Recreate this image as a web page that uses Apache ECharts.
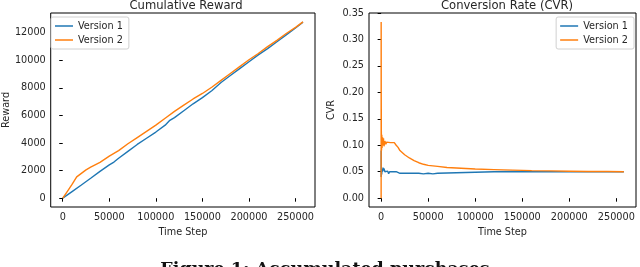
<!DOCTYPE html>
<html><head><meta charset="utf-8">
<script src="https://cdn.jsdelivr.net/npm/echarts@6/dist/echarts.min.js"></script>
<style>html,body{margin:0;padding:0;background:#fff}#c{width:640px;height:267px}</style>
</head><body><div id="c"></div>
<script>
const seriesNames = ['Version 1', 'Version 2'];
const xTicks = [0, 50000, 100000, 150000, 200000, 250000];
const rewardTicks = [0, 2000, 4000, 6000, 8000, 10000, 12000];
const cvrTicks = [0, 0.05, 0.10, 0.15, 0.20, 0.25, 0.30, 0.35];

const rewardV1 = [[0,0],[10000,480],[20000,960],[30000,1450],[40000,1950],[50000,2420],[55000,2620],[60000,2900],[70000,3400],[80000,3900],[90000,4350],[100000,4800],[110000,5300],[115000,5650],[120000,5850],[130000,6350],[140000,6850],[150000,7300],[160000,7800],[170000,8400],[180000,8900],[190000,9400],[200000,9900],[210000,10400],[220000,10850],[230000,11350],[240000,11850],[250000,12350],[258000,12780]];
const rewardV2 = [[0,0],[5000,500],[10000,1000],[15000,1550],[20000,1800],[25000,2050],[30000,2250],[40000,2600],[50000,3050],[60000,3450],[70000,3950],[80000,4400],[90000,4850],[100000,5300],[110000,5800],[120000,6300],[130000,6750],[140000,7200],[150000,7600],[160000,8050],[170000,8550],[180000,9050],[190000,9550],[200000,10050],[210000,10500],[220000,11000],[230000,11450],[240000,11950],[250000,12400],[258000,12800]];
const cvrV1 = [[0,0.04],[50,0.09],[150,0.04],[300,0.05],[600,0.045],[1000,0.055],[1500,0.05],[2000,0.058],[2500,0.052],[3000,0.056],[4000,0.05],[5000,0.053],[6000,0.047],[7000,0.051],[8000,0.046],[9000,0.05],[10000,0.048],[12000,0.05],[14000,0.049],[16000,0.05],[18000,0.048],[20000,0.047],[30000,0.047],[40000,0.047],[45000,0.046],[50000,0.047],[55000,0.046],[60000,0.047],[80000,0.048],[100000,0.049],[120000,0.05],[140000,0.0505],[160000,0.05],[180000,0.05],[200000,0.05],[258000,0.05]];
const cvrV2 = [[0,0],[30,0.333],[100,0.2],[200,0.13],[400,0.09],[700,0.12],[1000,0.095],[1500,0.115],[2000,0.1],[2500,0.113],[3000,0.098],[4000,0.108],[5000,0.102],[6000,0.106],[8000,0.103],[10000,0.105],[12000,0.104],[14000,0.105],[16000,0.1],[18000,0.096],[20000,0.09],[25000,0.082],[30000,0.076],[35000,0.071],[40000,0.067],[45000,0.064],[50000,0.062],[60000,0.06],[70000,0.058],[80000,0.057],[90000,0.056],[100000,0.055],[120000,0.054],[140000,0.053],[160000,0.052],[180000,0.0515],[200000,0.051],[220000,0.0505],[240000,0.0505],[258000,0.05]];

const colors = ['#1f77b4', '#ff7f0e'];
const F = 'DejaVu Sans';
const txt = '#262626';
const chart = echarts.init(document.getElementById('c'), null, {renderer: 'canvas'});

function xAxis(gi) {
  return {
    type: 'value', gridIndex: gi, min: -12900, max: 270900,
    name: 'Time Step', nameLocation: 'middle', nameGap: 20,
    nameTextStyle: {fontFamily: F, fontSize: 9.7, color: txt},
    axisLine: {show: false},
    axisTick: {show: true, inside: false, length: 3.5, lineStyle: {color: '#000'}, customValues: xTicks},
    axisLabel: {fontFamily: F, fontSize: 9.7, color: txt, margin: 5, customValues: xTicks, formatter: v => String(Math.round(v))},
    splitLine: {show: false}
  };
}
function yAxis(gi, name, min, max, ticks, fmt) {
  return {
    type: 'value', gridIndex: gi, min: min, max: max,
    name: name, nameLocation: 'middle', nameGap: gi === 0 ? 36 : 33, nameRotate: 90,
    nameTextStyle: {fontFamily: F, fontSize: 9.7, color: txt},
    axisLine: {show: false},
    axisTick: {show: true, inside: false, length: 3.5, lineStyle: {color: '#000'}, customValues: ticks},
    axisLabel: {fontFamily: F, fontSize: 9.7, color: txt, margin: 5, customValues: ticks, formatter: fmt},
    splitLine: {show: false}
  };
}
function legend(pos) {
  return Object.assign({
    data: seriesNames, orient: 'vertical', top: 17,
    icon: 'rect', itemWidth: 18, itemHeight: 1.5, itemGap: 4,
    textStyle: {fontFamily: F, fontSize: 9.7, color: txt},
    backgroundColor: '#fff', borderColor: '#d0d0d0', borderWidth: 1, borderRadius: 2,
    padding: [4, 6, 4, 4], selectedMode: false
  }, pos);
}
function line(name, gi, data, ci) {
  return {
    type: 'line', name: name, xAxisIndex: gi, yAxisIndex: gi, data: data,
    showSymbol: false, symbol: 'none', animation: false,
    lineStyle: {color: colors[ci], width: 1.4}, itemStyle: {color: colors[ci]}
  };
}

chart.setOption({
  animation: false,
  color: colors,
  title: [
    {text: 'Cumulative Reward', left: 181, top: -5, textAlign: 'center', textStyle: {fontFamily: F, fontSize: 11.6, fontWeight: 'normal', color: txt}},
    {text: 'Conversion Rate (CVR)', left: 502, top: -5, textAlign: 'center', textStyle: {fontFamily: F, fontSize: 11.6, fontWeight: 'normal', color: txt}},
    {text: 'Figure 1: Accumulated purchases', left: 320, top: 255, textAlign: 'center', textStyle: {fontFamily: 'DejaVu Serif', fontSize: 17.5, fontWeight: 'bold', color: '#111'}}
  ],
  grid: [
    {left: 48, right: 325, top: 13, bottom: 60, show: true, borderColor: '#000', borderWidth: 1, backgroundColor: 'transparent'},
    {left: 369, right: 4, top: 13, bottom: 60, show: true, borderColor: '#000', borderWidth: 1, backgroundColor: 'transparent'}
  ],
  legend: [legend({left: 51}), legend({right: 6})],
  xAxis: [xAxis(0), xAxis(1)],
  yAxis: [
    yAxis(0, 'Reward', -640, 13440, rewardTicks, v => String(v)),
    yAxis(1, 'CVR', -0.0167, 0.35, cvrTicks, v => v.toFixed(2))
  ],
  series: [
    line('Version 1', 0, rewardV1, 0),
    line('Version 2', 0, rewardV2, 1),
    line('Version 1', 1, cvrV1, 0),
    line('Version 2', 1, cvrV2, 1)
  ]
});
</script>
</body></html>
